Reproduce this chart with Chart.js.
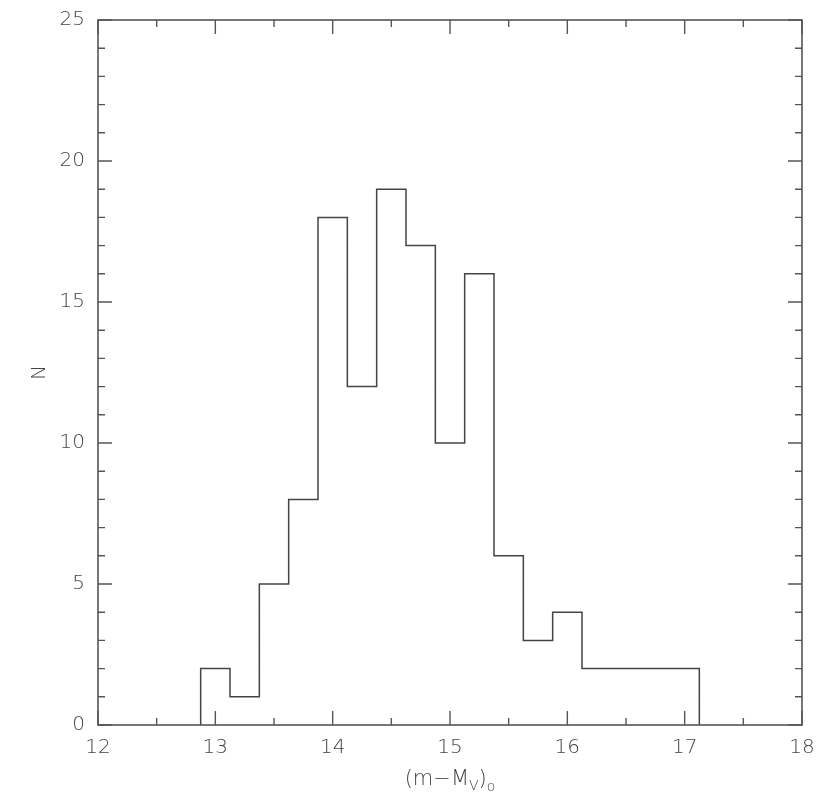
<!DOCTYPE html>
<html><head><meta charset="utf-8">
<script src="https://cdn.jsdelivr.net/npm/chart.js@4/dist/chart.umd.min.js"></script>
<style>html,body{margin:0;padding:0;background:#fff;}#wrap{width:830px;height:796px;}</style>
</head><body><div id="wrap"><canvas id="c" width="830" height="796"></canvas></div>
<script>
// Bin edges (left edge of each bin, plus final right edge) and counts N
const binEdges = [12.875, 13.125, 13.375, 13.625, 13.875, 14.125, 14.375, 14.625, 14.875, 15.125, 15.375, 15.625, 15.875, 16.125, 16.375, 16.625, 16.875, 17.125];
const counts   = [2, 1, 5, 8, 18, 12, 19, 17, 10, 16, 6, 3, 4, 2, 2, 2, 2];
const xTicks = [12, 13, 14, 15, 16, 17, 18];
const yTicks = [0, 5, 10, 15, 20, 25];
const xMinorStep = 0.5;
const yMinorStep = 1;

// step outline: each bin's count holds from its left edge to its right edge
const pts = [{x: binEdges[0], y: 0}];
for (let i = 0; i < counts.length; i++) {
  pts.push({x: binEdges[i], y: counts[i]});
  pts.push({x: binEdges[i + 1], y: counts[i]});
}
pts.push({x: binEdges[binEdges.length - 1], y: 0});

const lineColor = '#444';
const fontFamily = "'DejaVu Sans', 'Liberation Sans', sans-serif";

const frameTicks = {
  id: 'frameTicks',
  afterDraw(chart) {
    const {ctx, chartArea: a, scales: {x, y}} = chart;
    ctx.save();
    ctx.strokeStyle = '#555';
    ctx.lineWidth = 1.6;
    ctx.strokeRect(a.left, a.top, a.right - a.left, a.bottom - a.top);
    ctx.lineWidth = 1.4;
    ctx.beginPath();
    for (let v = x.min; v <= x.max + 1e-9; v += xMinorStep) {
      const px = x.getPixelForValue(v);
      const major = xTicks.includes(Math.round(v * 1000) / 1000);
      const len = major ? 14 : 7;
      ctx.moveTo(px, a.bottom); ctx.lineTo(px, a.bottom - len);
      ctx.moveTo(px, a.top); ctx.lineTo(px, a.top + len);
    }
    for (let v = y.min; v <= y.max + 1e-9; v += yMinorStep) {
      const py = y.getPixelForValue(v);
      const major = yTicks.includes(Math.round(v));
      const len = major ? 14 : 7;
      ctx.moveTo(a.left, py); ctx.lineTo(a.left + len, py);
      ctx.moveTo(a.right, py); ctx.lineTo(a.right - len, py);
    }
    ctx.stroke();
    // x-axis title with subscripts
    ctx.fillStyle = '#444';
    ctx.textBaseline = 'alphabetic';
    const big = '300 21px ' + fontFamily, small = '300 14px ' + fontFamily;
    const parts = [['(m\u2212M', big, 0], ['V', small, 5], [')', big, 0], ['o', small, 6]];
    let total = 0;
    for (const [t, f] of parts) { ctx.font = f; total += ctx.measureText(t).width; }
    let cx = (a.left + a.right) / 2 - total / 2;
    const base = a.bottom + 60;
    for (const [t, f, dy] of parts) {
      ctx.font = f; ctx.textAlign = 'left';
      ctx.fillText(t, cx, base + dy);
      cx += ctx.measureText(t).width;
    }
    ctx.restore();
  }
};

new Chart(document.getElementById('c'), {
  type: 'line',
  data: { datasets: [{
    data: pts, borderColor: lineColor, borderWidth: 1.5,
    pointRadius: 0, fill: false, tension: 0
  }]},
  options: {
    responsive: false, animation: false,
    layout: { padding: { top: 20, right: 28, left: 0, bottom: 0 } },
    plugins: { legend: { display: false }, tooltip: { enabled: false } },
    scales: {
      x: {
        type: 'linear', min: 12, max: 18,
        grid: { display: false }, border: { display: false },
        afterBuildTicks: s => { s.ticks = xTicks.map(v => ({value: v})); },
        ticks: { color: '#444', font: { family: fontFamily, size: 20, weight: '300' }, padding: 3, maxRotation: 0 },
        afterFit: s => { s.height = 71; }
      },
      y: {
        type: 'linear', min: 0, max: 25,
        grid: { display: false }, border: { display: false },
        afterBuildTicks: s => { s.ticks = yTicks.map(v => ({value: v})); },
        ticks: { color: '#444', font: { family: fontFamily, size: 20, weight: '300' }, padding: 5 },
        title: { display: true, text: 'N', color: '#444', font: { family: fontFamily, size: 20, weight: '300' }, padding: { top: 28, bottom: 0 } },
        afterFit: s => { s.width = 98; }
      }
    }
  },
  plugins: [frameTicks]
});
</script></body></html>
